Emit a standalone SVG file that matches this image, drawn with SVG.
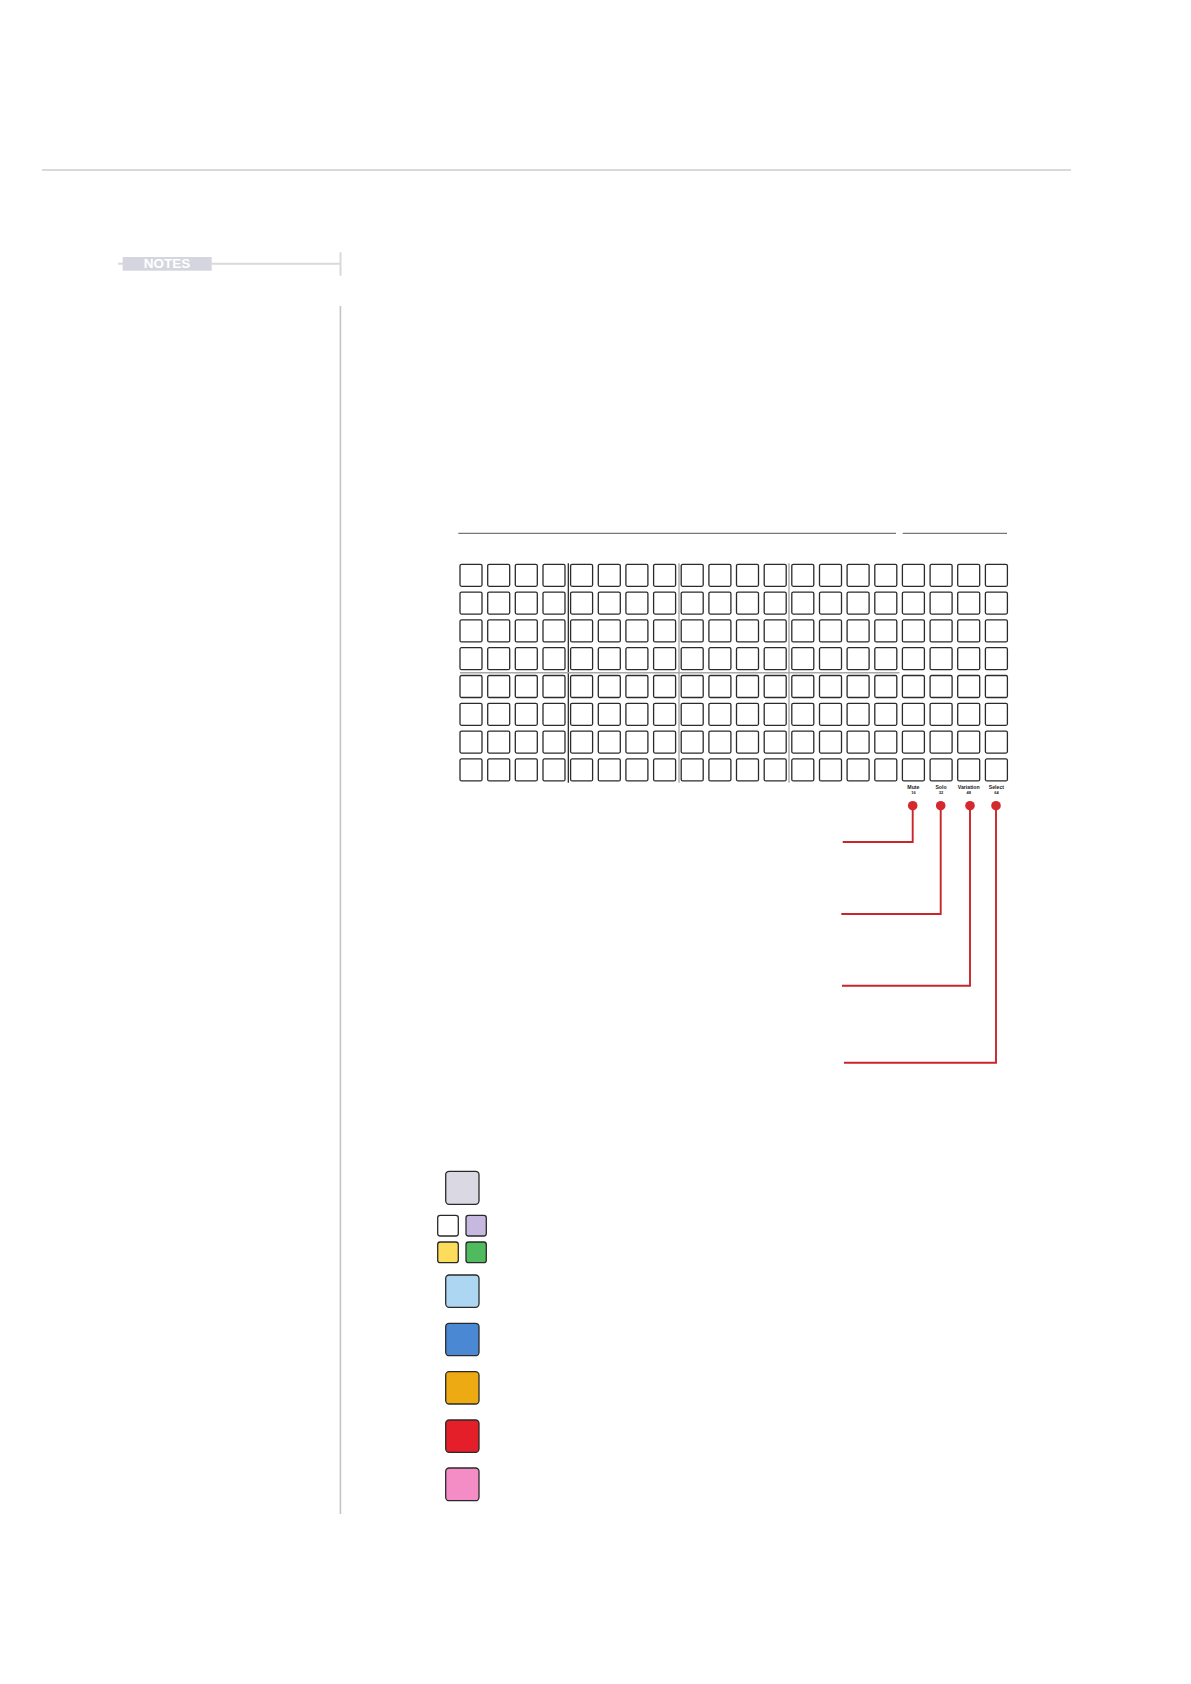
<svg xmlns="http://www.w3.org/2000/svg" xmlns:xlink="http://www.w3.org/1999/xlink" width="1191" height="1684" viewBox="0 0 1191 1684">
<style>
.rule{stroke:#d9d9d9;stroke-width:2;fill:none}
.side{stroke:#c4c4c4;stroke-width:1.6;fill:none}
.pad{fill:#ffffff;stroke:#2b2b2b;stroke-width:1.3}
.hdr{stroke:#777777;stroke-width:1.3;fill:none}
.divk{stroke:#1a1a1a;stroke-width:1.2;fill:none}
.divg{stroke:#a8a8a8;stroke-width:1.4;fill:none}
.lbl{font-family:"Liberation Sans",Arial,sans-serif;font-weight:bold;fill:#1a1a1a;text-anchor:middle}
.red{stroke:#c8262b;stroke-width:1.9;fill:none}
.dot{fill:#d42a2f}
.leg{stroke:#2a2a2a;stroke-width:1.3}
</style>
<defs>
<g id="padrow">
<rect class="pad" x="460" y="0" width="22" height="22" rx="1.5"/>
<rect class="pad" x="487.7" y="0" width="22" height="22" rx="1.5"/>
<rect class="pad" x="515.3" y="0" width="22" height="22" rx="1.5"/>
<rect class="pad" x="543" y="0" width="22" height="22" rx="1.5"/>
<rect class="pad" x="570.6" y="0" width="22" height="22" rx="1.5"/>
<rect class="pad" x="598.3" y="0" width="22" height="22" rx="1.5"/>
<rect class="pad" x="625.9" y="0" width="22" height="22" rx="1.5"/>
<rect class="pad" x="653.6" y="0" width="22" height="22" rx="1.5"/>
<rect class="pad" x="681.2" y="0" width="22" height="22" rx="1.5"/>
<rect class="pad" x="708.9" y="0" width="22" height="22" rx="1.5"/>
<rect class="pad" x="736.5" y="0" width="22" height="22" rx="1.5"/>
<rect class="pad" x="764.2" y="0" width="22" height="22" rx="1.5"/>
<rect class="pad" x="791.8" y="0" width="22" height="22" rx="1.5"/>
<rect class="pad" x="819.5" y="0" width="22" height="22" rx="1.5"/>
<rect class="pad" x="847.1" y="0" width="22" height="22" rx="1.5"/>
<rect class="pad" x="874.8" y="0" width="22" height="22" rx="1.5"/>
<rect class="pad" x="902.4" y="0" width="22" height="22" rx="1.5"/>
<rect class="pad" x="930.1" y="0" width="22" height="22" rx="1.5"/>
<rect class="pad" x="957.7" y="0" width="22" height="22" rx="1.5"/>
<rect class="pad" x="985.4" y="0" width="22" height="22" rx="1.5"/>
</g>
</defs>
<rect width="1191" height="1684" fill="#ffffff"/>

<g id="page-header">
<line class="rule" x1="42" y1="170" x2="1071" y2="170"/>
</g>

<g id="notes-header">
<line class="rule" x1="118" y1="263.7" x2="123" y2="263.7" stroke-width="1"/>
<rect x="122.7" y="257" width="89" height="13.7" fill="#d5d5e0"/>
<text x="167" y="268.3" font-family="'Liberation Sans',Arial,sans-serif" font-weight="bold" font-size="13.5" fill="#ffffff" text-anchor="middle">NOTES</text>
<line class="rule" x1="211.7" y1="263.7" x2="340.5" y2="263.7"/>
<line class="rule" x1="340.5" y1="252.3" x2="340.5" y2="275.7"/>
</g>

<g id="sidebar">
<line class="side" x1="340.4" y1="306" x2="340.4" y2="1514"/>
</g>

<g id="grid-headers">
<line class="hdr" x1="458.3" y1="533.3" x2="896" y2="533.3"/>
<line class="hdr" x1="902.7" y1="533.3" x2="1007" y2="533.3"/>
</g>

<g id="grid-dividers">
<line class="divk" x1="568.3" y1="563.3" x2="568.3" y2="782.7"/>
<line class="divg" x1="679" y1="563.3" x2="679" y2="782.7"/>
<line class="divg" x1="789" y1="563.3" x2="789" y2="782.7"/>
<line class="divg" x1="460" y1="672.7" x2="899.5" y2="672.7"/>
</g>

<g id="pad-grid">
<use xlink:href="#padrow" href="#padrow" y="564.3"/>
<use xlink:href="#padrow" href="#padrow" y="592.1"/>
<use xlink:href="#padrow" href="#padrow" y="619.9"/>
<use xlink:href="#padrow" href="#padrow" y="647.7"/>
<use xlink:href="#padrow" href="#padrow" y="675.5"/>
<use xlink:href="#padrow" href="#padrow" y="703.3"/>
<use xlink:href="#padrow" href="#padrow" y="731.1"/>
<use xlink:href="#padrow" href="#padrow" y="758.9"/>
</g>

<g id="label-mute">
<text class="lbl" x="913.4" y="788.6" font-size="5.2">Mute</text>
<text class="lbl" x="913.4" y="793.8" font-size="4">16</text>
</g>
<g id="label-solo">
<text class="lbl" x="941" y="788.6" font-size="5.2">Solo</text>
<text class="lbl" x="941" y="793.8" font-size="4">32</text>
</g>
<g id="label-variation">
<text class="lbl" x="968.7" y="788.6" font-size="5.2">Variation</text>
<text class="lbl" x="968.7" y="793.8" font-size="4">48</text>
</g>
<g id="label-select">
<text class="lbl" x="996.4" y="788.6" font-size="5.2">Select</text>
<text class="lbl" x="996.4" y="793.8" font-size="4">64</text>
</g>

<g id="connectors">
<polyline class="red" points="912.7,805.7 912.7,842 842.7,842"/>
<polyline class="red" points="940.7,805.7 940.7,914 841.3,914"/>
<polyline class="red" points="970,805.7 970,985.7 842,985.7"/>
<polyline class="red" points="996,805.7 996,1062.7 844,1062.7"/>
<circle class="dot" cx="912.7" cy="805.7" r="4.8"/>
<circle class="dot" cx="940.7" cy="805.7" r="4.8"/>
<circle class="dot" cx="970" cy="805.7" r="4.8"/>
<circle class="dot" cx="996" cy="805.7" r="4.8"/>
</g>

<g id="legend-gray"><rect class="leg" x="445.7" y="1171.3" width="33.3" height="33" rx="3.5" fill="#d9d8e3"/></g>
<g id="legend-quad">
<rect class="leg" x="437.7" y="1215.3" width="20.6" height="20.7" rx="2.5" fill="#ffffff"/>
<rect class="leg" x="466" y="1215.3" width="20.3" height="20.7" rx="2.5" fill="#c7b8e0"/>
<rect class="leg" x="437.7" y="1242" width="20.6" height="20.7" rx="2.5" fill="#fddb5b"/>
<rect class="leg" x="466" y="1242" width="20.3" height="20.7" rx="2.5" fill="#4fbb5e"/>
</g>
<g id="legend-lightblue"><rect class="leg" x="445.7" y="1275" width="33.3" height="32.3" rx="3.5" fill="#acd6f2"/></g>
<g id="legend-blue"><rect class="leg" x="445.7" y="1323.3" width="33.3" height="32.4" rx="3.5" fill="#4a88d4"/></g>
<g id="legend-orange"><rect class="leg" x="445.7" y="1371.7" width="33.3" height="32.3" rx="3.5" fill="#eeaa12"/></g>
<g id="legend-red"><rect class="leg" x="445.7" y="1420" width="33.3" height="32.3" rx="3.5" fill="#e51f2a"/></g>
<g id="legend-pink"><rect class="leg" x="445.7" y="1468" width="33.3" height="32.7" rx="3.5" fill="#f48cc6"/></g>
</svg>
